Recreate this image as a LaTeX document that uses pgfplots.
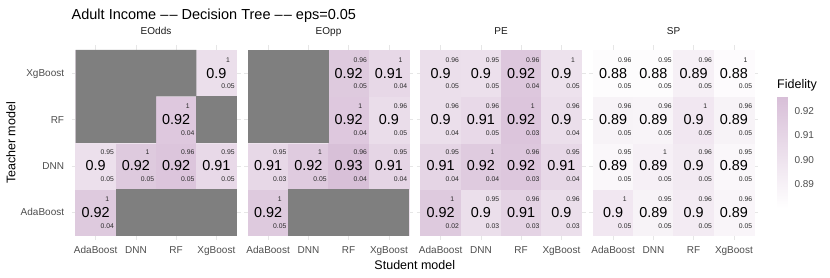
\documentclass[border=0pt]{standalone}
\usepackage{pgfplots}
\pgfplotsset{compat=1.18}
\usepackage{pgfplotstable}
\usepackage{fontspec}
\setmainfont{Liberation Sans}
\definecolor{nagray}{RGB}{127,127,127}
\definecolor{gridgray}{RGB}{230,230,230}
\definecolor{tickgray}{RGB}{77,77,77}
\definecolor{stripgray}{RGB}{26,26,26}
\definecolor{smallgray}{RGB}{40,40,40}

\pgfplotstableread{
x y v lab top bot na
1 1 0.918 0.92 1 0.04 0
2 1 0.900 NA NA NA 1
3 1 0.900 NA NA NA 1
4 1 0.900 NA NA NA 1
1 2 0.902 0.9 0.95 0.05 0
2 2 0.918 0.92 1 0.05 0
3 2 0.921 0.92 0.96 0.05 0
4 2 0.907 0.91 0.95 0.05 0
1 3 0.900 NA NA NA 1
2 3 0.900 NA NA NA 1
3 3 0.919 0.92 1 0.04 0
4 3 0.900 NA NA NA 1
1 4 0.900 NA NA NA 1
2 4 0.900 NA NA NA 1
3 4 0.900 NA NA NA 1
4 4 0.903 0.9 1 0.05 0
}\eodds

\pgfplotstableread{
x y v lab top bot na
1 1 0.918 0.92 1 0.05 0
2 1 0.900 NA NA NA 1
3 1 0.900 NA NA NA 1
4 1 0.900 NA NA NA 1
1 2 0.908 0.91 0.95 0.03 0
2 2 0.917 0.92 1 0.05 0
3 2 0.925 0.93 0.96 0.04 0
4 2 0.910 0.91 0.95 0.04 0
1 3 0.900 NA NA NA 1
2 3 0.900 NA NA NA 1
3 3 0.919 0.92 1 0.04 0
4 3 0.904 0.9 0.96 0.05 0
1 4 0.900 NA NA NA 1
2 4 0.900 NA NA NA 1
3 4 0.918 0.92 0.96 0.05 0
4 4 0.908 0.91 1 0.04 0
}\eopp

\pgfplotstableread{
x y v lab top bot na
1 1 0.918 0.92 1 0.02 0
2 1 0.903 0.9 0.95 0.03 0
3 1 0.911 0.91 0.96 0.03 0
4 1 0.903 0.9 0.96 0.03 0
1 2 0.910 0.91 0.95 0.04 0
2 2 0.917 0.92 1 0.04 0
3 2 0.920 0.92 0.96 0.03 0
4 2 0.908 0.91 0.95 0.04 0
1 3 0.903 0.9 0.96 0.04 0
2 3 0.907 0.91 0.96 0.05 0
3 3 0.921 0.92 1 0.03 0
4 3 0.903 0.9 0.96 0.04 0
1 4 0.903 0.9 0.96 0.05 0
2 4 0.902 0.9 0.95 0.05 0
3 4 0.920 0.92 0.96 0.04 0
4 4 0.901 0.9 1 0.05 0
}\pe

\pgfplotstableread{
x y v lab top bot na
1 1 0.897 0.9 1 0.05 0
2 1 0.889 0.89 0.95 0.05 0
3 1 0.894 0.9 0.96 0.05 0
4 1 0.887 0.89 0.96 0.05 0
1 2 0.886 0.89 0.95 0.05 0
2 2 0.891 0.89 1 0.05 0
3 2 0.895 0.9 0.96 0.05 0
4 2 0.886 0.89 0.95 0.05 0
1 3 0.889 0.89 0.96 0.05 0
2 3 0.888 0.89 0.96 0.05 0
3 3 0.897 0.9 1 0.05 0
4 3 0.889 0.89 0.96 0.05 0
1 4 0.882 0.88 0.96 0.05 0
2 4 0.882 0.88 0.95 0.05 0
3 4 0.891 0.89 0.96 0.05 0
4 4 0.883 0.88 1 0.05 0
}\sp

\pgfplotsset{
  colormap={fid}{rgb255=(255,255,255) rgb255=(216,191,216)},
  panel/.style={
    scale only axis, x=40.25pt, y=46.4pt,
    xmin=0.4, xmax=4.6, ymin=0.4, ymax=4.6,
    anchor=south west,
    axis line style={draw=none},
    major tick length=0pt,
    xtick={1,2,3,4}, ytick={1,2,3,4},
    xticklabels={AdaBoost,DNN,RF,XgBoost},
    yticklabels={,,,},
    grid=major, major grid style={gridgray, line width=0.7pt},
    tick label style={font=\fontsize{10}{12}\selectfont, text=tickgray, inner sep=0pt},
    xticklabel style={anchor=base, yshift=-13.1pt},
    yticklabel style={anchor=base east, xshift=-7.2pt, yshift=-3.6pt},
    title style={at={(0.5,1)}, anchor=base, yshift=5.3pt, inner sep=0pt,
      font=\fontsize{10}{12}\selectfont, text=stripgray},
    colormap name=fid, point meta min=0.8802, point meta max=0.9258,
  },
  biglab/.style={draw=none, mark=none, nodes near coords, point meta=explicit symbolic,
    nodes near coords align={center},
    every node near coord/.append style={font=\fontsize{14.4}{16}\selectfont, text=black, inner sep=0pt, anchor=center},
    restrict expr to domain={\thisrow{na}}{0:0}},
  smalllab/.style={draw=none, mark=none, nodes near coords, point meta=explicit symbolic,
    nodes near coords align={center},
    every node near coord/.append style={font=\fontsize{6.8}{8}\selectfont, text=smallgray, inner sep=0pt, anchor=center},
    restrict expr to domain={\thisrow{na}}{0:0}},
}

\newcommand\labels[1]{%
  \addplot[biglab] table[x=x, y=y, meta=lab] {#1};
  \addplot[smalllab] table[x expr=\thisrow{x}+0.29, y expr=\thisrow{y}+0.29, meta=top] {#1};
  \addplot[smalllab] table[x expr=\thisrow{x}+0.29, y expr=\thisrow{y}-0.29, meta=bot] {#1};
}

\newcommand\dd{\textendash\kern1.2pt\textendash}

\begin{document}
\begin{tikzpicture}
\useasboundingbox (0,0) rectangle (830pt,277pt);

% EOdds
\begin{axis}[panel, at={(71.5pt,36.8pt)}, title={EOdds},
  yticklabels={AdaBoost,DNN,RF,XgBoost}]
\addplot[matrix plot*, mesh/cols=4, point meta=explicit] table[x=x, y=y, meta=v] {\eodds};
\addplot[fill=nagray, draw=none] coordinates {(0.5,2.5) (2.5,2.5) (2.5,3.5) (3.5,3.5) (3.5,4.5) (0.5,4.5)} -- cycle;
\addplot[fill=nagray, draw=none] coordinates {(3.5,2.5) (4.5,2.5) (4.5,3.5) (3.5,3.5)} -- cycle;
\addplot[fill=nagray, draw=none] coordinates {(1.5,0.5) (4.5,0.5) (4.5,1.5) (1.5,1.5)} -- cycle;
\labels{\eodds}
\end{axis}

% EOpp
\begin{axis}[panel, at={(244pt,36.8pt)}, title={EOpp}]
\addplot[matrix plot*, mesh/cols=4, point meta=explicit] table[x=x, y=y, meta=v] {\eopp};
\addplot[fill=nagray, draw=none] coordinates {(0.5,2.5) (2.5,2.5) (2.5,4.5) (0.5,4.5)} -- cycle;
\addplot[fill=nagray, draw=none] coordinates {(1.5,0.5) (4.5,0.5) (4.5,1.5) (1.5,1.5)} -- cycle;
\labels{\eopp}
\end{axis}

% PE
\begin{axis}[panel, at={(416.5pt,36.8pt)}, title={PE}]
\addplot[matrix plot*, mesh/cols=4, point meta=explicit] table[x=x, y=y, meta=v] {\pe};
\labels{\pe}
\end{axis}

% SP
\begin{axis}[panel, at={(589pt,36.8pt)}, title={SP}]
\addplot[matrix plot*, mesh/cols=4, point meta=explicit] table[x=x, y=y, meta=v] {\sp};
\labels{\sp}
\end{axis}

% colour bar
\begin{axis}[at={(776.7pt,68.7pt)}, anchor=south west, scale only axis,
  width=11pt, height=111.6pt, xmin=0, xmax=1, ymin=0.8802, ymax=0.9258,
  axis line style={draw=none}, xtick=\empty,
  ytick={0.89,0.90,0.91,0.92}, yticklabels={0.89,0.90,0.91,0.92},
  yticklabel pos=right, ytick pos=both,
  tick align=inside, major tick length=2.2pt, tick style={white, line width=0.5pt},
  tick label style={font=\fontsize{10}{12}\selectfont, text=tickgray, inner sep=0pt},
  yticklabel style={anchor=base west, xshift=6.6pt, yshift=-3.6pt},
  colormap name=fid, point meta min=0.8802, point meta max=0.9258]
\addplot[surf, shader=interp, point meta=y, mesh/rows=2] table {
x y
0 0.8802
1 0.8802

0 0.9258
1 0.9258
};
\end{axis}

\node[anchor=base west, inner sep=0pt, font=\fontsize{12.5}{14}\selectfont] at (777pt,188.7pt) {Fidelity};
\node[anchor=base west, inner sep=0pt, font=\fontsize{14.5}{17}\selectfont] at (71.5pt,257.7pt) {Adult Income \dd{} Decision Tree \dd{} eps=0.05};
\node[anchor=base, inner sep=0pt, font=\fontsize{12.5}{14}\selectfont] at (414.8pt,8pt) {Student model};
\node[anchor=base, rotate=90, inner sep=0pt, font=\fontsize{12.5}{14}\selectfont] at (15.3pt,134pt) {Teacher model};
\end{tikzpicture}
\end{document}
